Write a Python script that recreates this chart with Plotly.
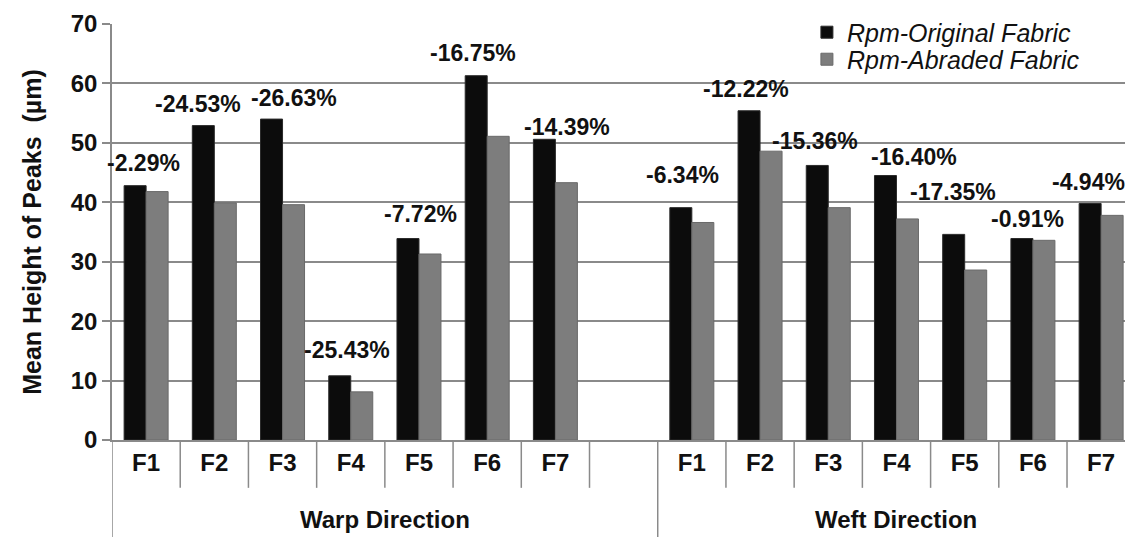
import plotly.graph_objects as go

# Categories: warp group has an empty trailing slot before the weft group
groups = ["Warp Direction", "Weft Direction"]
group_sizes = [8, 7]
fabrics = ["F1", "F2", "F3", "F4", "F5", "F6", "F7", "",
           "F1", "F2", "F3", "F4", "F5", "F6", "F7"]

# Mean height of peaks (µm)
original = [42.8, 52.9, 54.0, 10.8, 33.9, 61.3, 50.6, None,
            39.1, 55.4, 46.2, 44.5, 34.6, 33.9, 39.8]
abraded = [41.8, 39.9, 39.6, 8.1, 31.3, 51.1, 43.3, None,
           36.6, 48.6, 39.1, 37.2, 28.6, 33.6, 37.8]

# Percentage change after abrasion
changes = ["-2.29%", "-24.53%", "-26.63%", "-25.43%", "-7.72%", "-16.75%", "-14.39%", None,
           "-6.34%", "-12.22%", "-15.36%", "-16.40%", "-17.35%", "-0.91%", "-4.94%"]

# Pixel nudges for each percentage label (dx, dy above the dark bar)
label_nudge = [(-3, 23), (-16, 22), (11, 21), (-4, 26), (2, 25), (-14, 23), (12, 12), (0, 0),
               (-9, 33), (-14, 22), (-13, 24), (18, 19), (-12, 42), (-5, 20), (-13, 21)]

FONT = "Liberation Sans, Arial, sans-serif"
TXT = "#111111"
LINE = "#8a8a8a"
pos = list(range(len(fabrics)))

fig = go.Figure()
fig.add_trace(go.Bar(
    x=pos, y=original, name="Rpm-Original Fabric", legend="legend",
    marker=dict(color="#0c0c0c", line=dict(color="#2a2a2a", width=1)),
))
fig.add_trace(go.Bar(
    x=pos, y=abraded, name="Rpm-Abraded Fabric", legend="legend2",
    marker=dict(color="#7d7d7d", line=dict(color="#6a6a6a", width=1)),
))

annotations = []
for i, (val, txt) in enumerate(zip(original, changes)):
    if val is None:
        continue
    dx, dy = label_nudge[i]
    annotations.append(dict(
        x=i, y=val, xref="x", yref="y", text=txt, showarrow=False,
        xanchor="center", yanchor="middle", xshift=dx, yshift=dy,
        font=dict(family=FONT, size=23, color=TXT, weight="bold"),
    ))

# Group captions and the long dividers that bound each group
shapes = []
start = 0
for name, size in zip(groups, group_sizes):
    left, right = start - 0.5, start + size - 0.5
    annotations.append(dict(
        x=(left + right) / 2, y=-0.192, xref="x", yref="paper", text=name,
        showarrow=False, xanchor="center", yanchor="middle",
        font=dict(family=FONT, size=24, color=TXT, weight="bold"),
    ))
    shapes.append(dict(type="line", xref="x", yref="paper", x0=left, x1=left,
                       y0=0, y1=-0.235, line=dict(color=LINE, width=1.5)))
    # short separators between neighbouring fabrics inside the group
    for k in range(start, start + size - 1):
        shapes.append(dict(type="line", xref="x", yref="paper", x0=k + 0.5, x1=k + 0.5,
                           y0=0, y1=-0.115, line=dict(color=LINE, width=1.5)))
    start += size

legend_style = dict(
    xanchor="left", yanchor="top", bgcolor="rgba(0,0,0,0)",
    font=dict(family=FONT, size=25, style="italic", color=TXT),
    itemwidth=30,
)

fig.update_layout(
    width=1125, height=537,
    margin=dict(l=112, r=0, t=24, b=97),
    paper_bgcolor="white", plot_bgcolor="white",
    barmode="group", bargap=0.355, bargroupgap=0,
    font=dict(family=FONT, color=TXT),
    showlegend=True,
    legend=dict(x=0.686, y=1.035, **legend_style),
    legend2=dict(x=0.686, y=0.970, **legend_style),
    annotations=annotations,
    shapes=shapes,
)

fig.update_xaxes(
    range=[-0.5, 14.35], tickmode="array", tickvals=pos, ticktext=fabrics,
    showline=True, linecolor=LINE, linewidth=1.5,
    ticks="", showgrid=False, zeroline=False,
    tickfont=dict(family=FONT, size=24, color=TXT, weight="bold"),
)
fig.update_yaxes(
    range=[0, 70], dtick=10, tick0=0,
    showline=True, linecolor=LINE, linewidth=1.5,
    showgrid=True, gridcolor=LINE, gridwidth=1.5,
    ticks="outside", ticklen=8, tickcolor=LINE, tickwidth=1.5,
    tickfont=dict(family=FONT, size=24, color=TXT, weight="bold"),
    zeroline=False,
    title=dict(text="Mean Height of Peaks \u00a0(µm)", standoff=22,
               font=dict(family=FONT, size=25, color=TXT, weight="bold")),
)

fig.write_html("out.html")
